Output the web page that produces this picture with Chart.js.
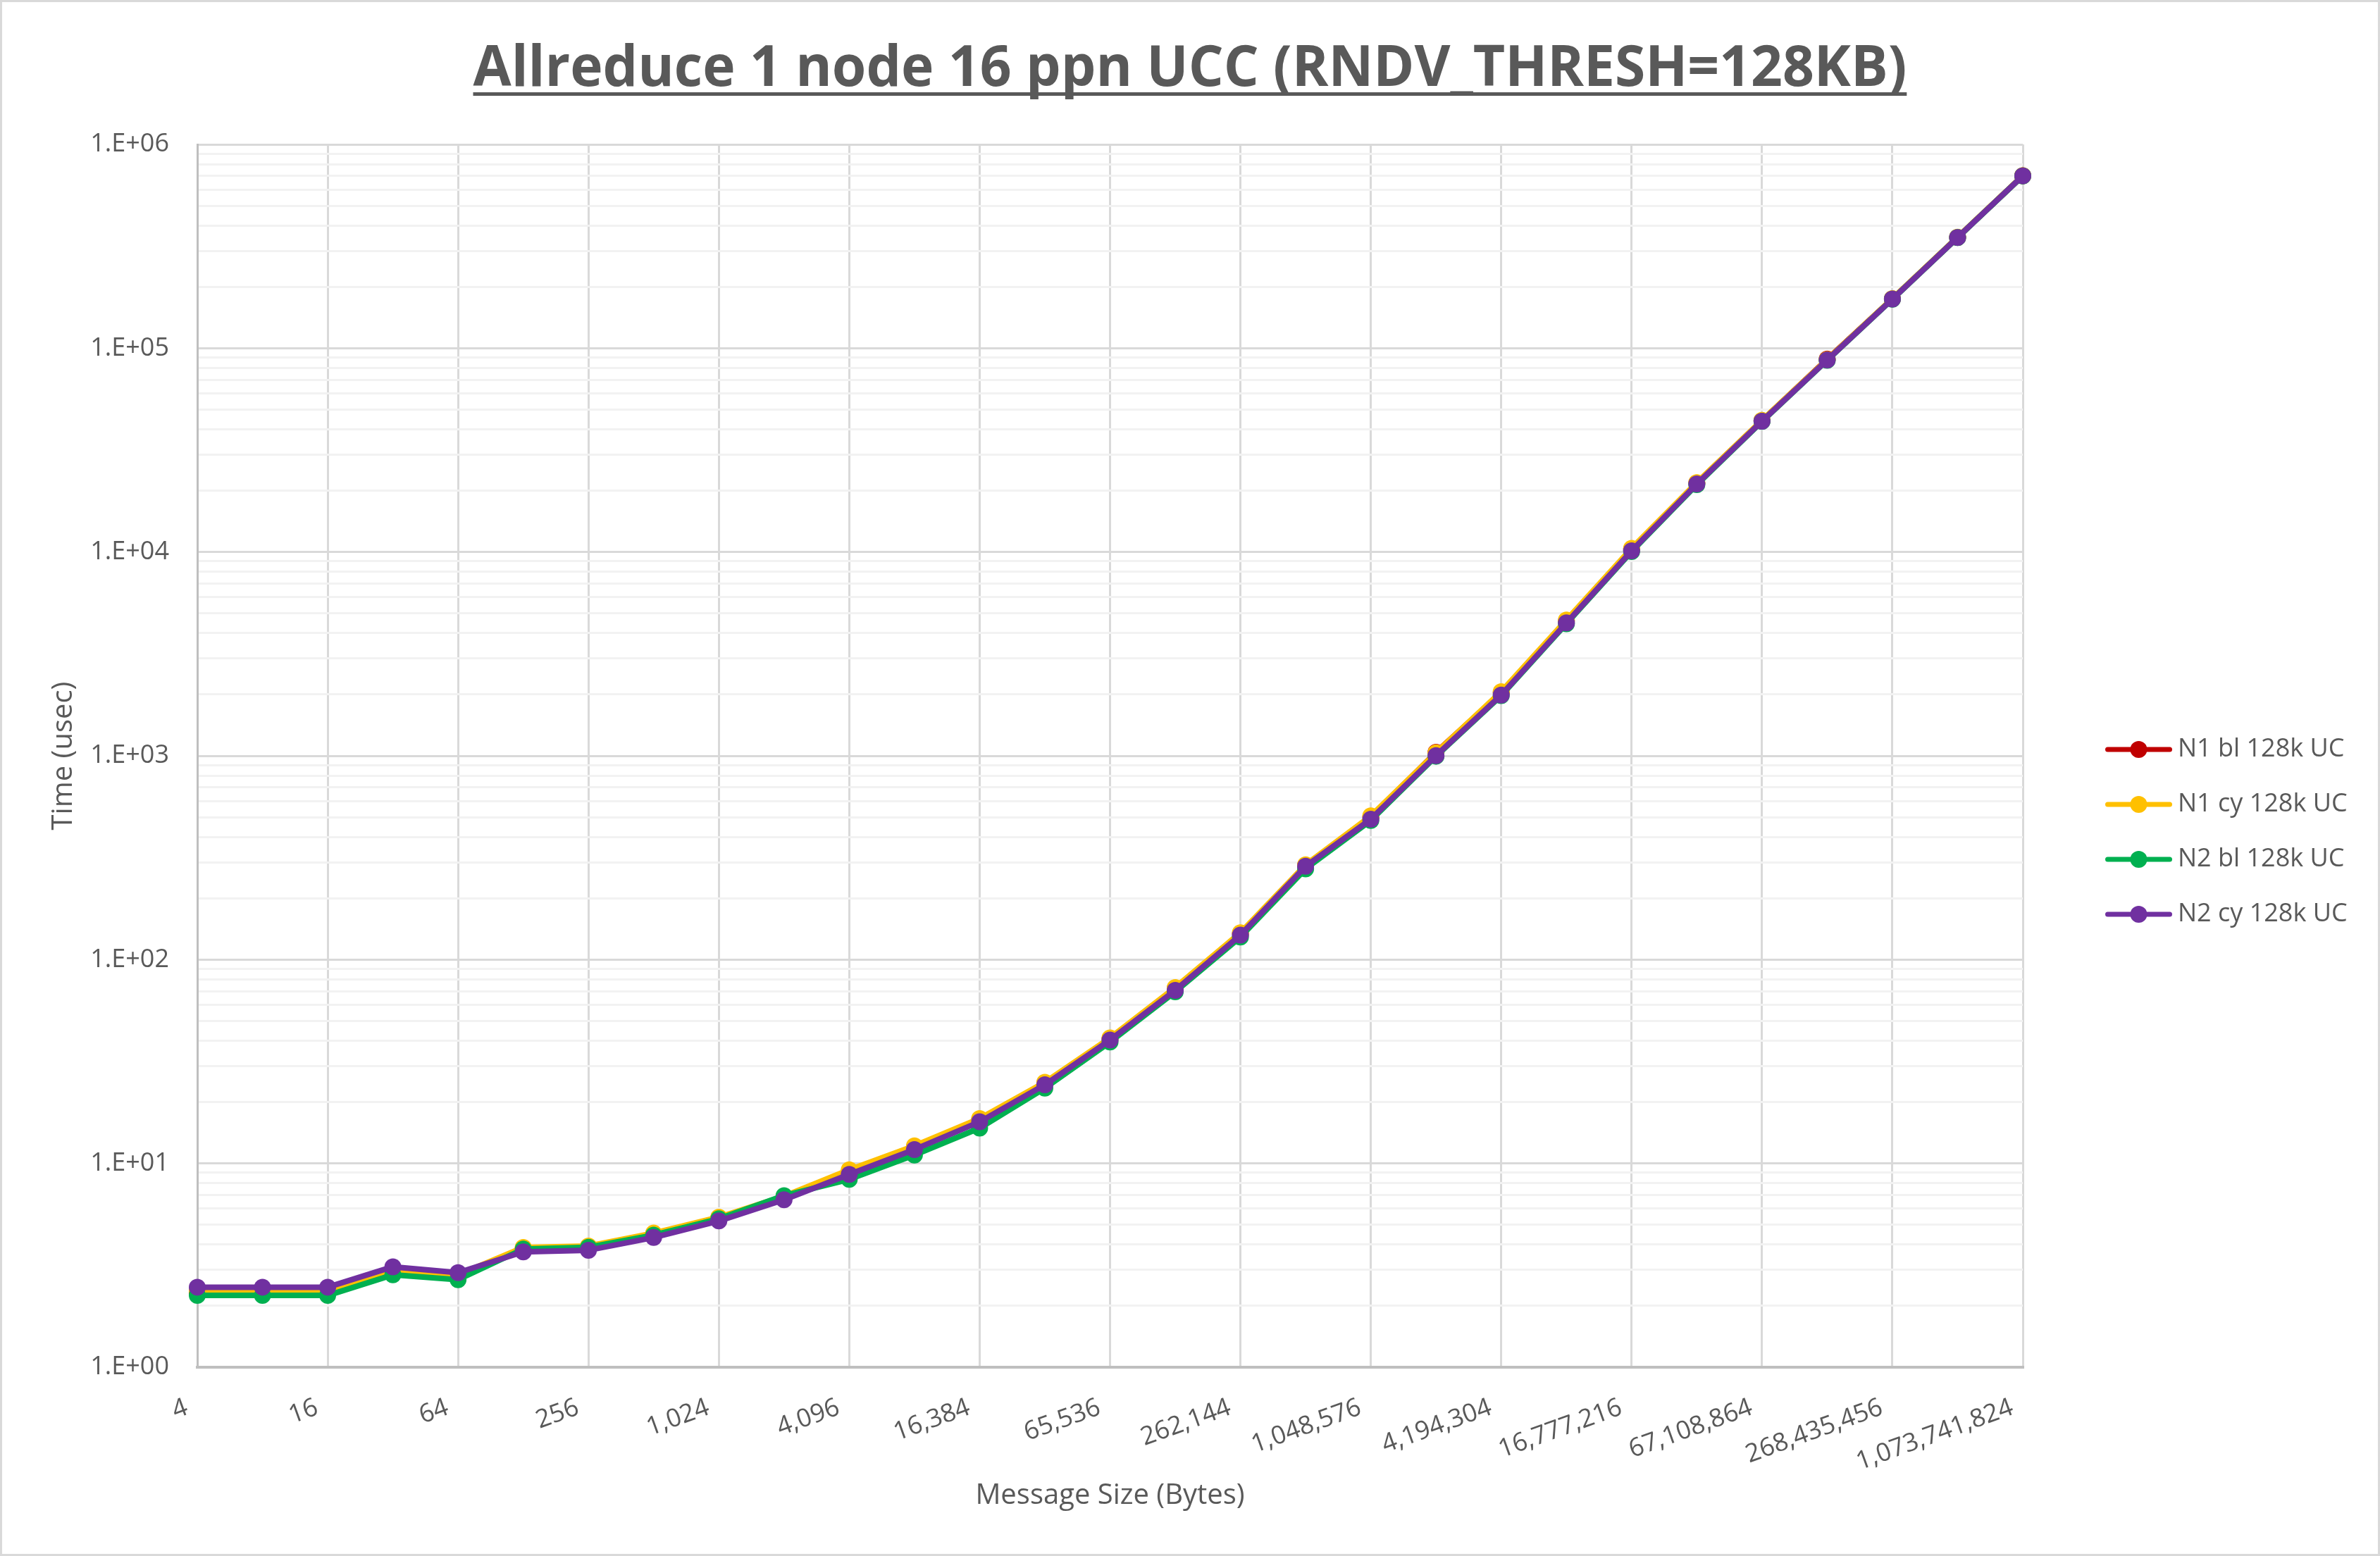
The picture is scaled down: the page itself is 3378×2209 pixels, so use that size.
<!DOCTYPE html>
<html><head><meta charset="utf-8">
<script src="https://cdn.jsdelivr.net/npm/chart.js@4.4.1/dist/chart.umd.min.js"></script>
<style>
html,body{margin:0;padding:0;background:#fff;}
#wrap{position:relative;width:3378px;height:2209px;overflow:hidden;background:#fff;}
#frame{position:absolute;left:0;top:0;width:3378px;height:2209px;box-sizing:border-box;border:3px solid #D9D9D9;pointer-events:none;}
#title{position:absolute;left:0;top:36px;width:3378px;text-align:center;font-family:"Open Sans";font-weight:700;font-size:80px;color:#595959;white-space:nowrap;}
#tt{display:inline-block;text-decoration:underline;text-decoration-thickness:5px;text-underline-offset:9px;text-decoration-skip-ink:none;transform-origin:50% 50%;}
canvas{position:absolute;left:0;top:0;}
</style></head><body>
<div id="wrap">
<canvas id="c" width="3378" height="2209"></canvas>
<div id="title"><span id="tt">Allreduce 1 node 16 ppn UCC (RNDV_THRESH=128KB)</span></div>
<div id="frame"></div>
</div>
<script>
// ---- data ----
const messageSizes = [4, 8, 16, 32, 64, 128, 256, 512, 1024, 2048, 4096, 8192, 16384, 32768, 65536,
  131072, 262144, 524288, 1048576, 2097152, 4194304, 8388608, 16777216, 33554432, 67108864,
  134217728, 268435456, 536870912, 1073741824];
const xTickLabels = ['4', '16', '64', '256', '1,024', '4,096', '16,384', '65,536', '262,144',
  '1,048,576', '4,194,304', '16,777,216', '67,108,864', '268,435,456', '1,073,741,824'];
const seriesNames = ['N1 bl 128k UC', 'N1 cy 128k UC', 'N2 bl 128k UC', 'N2 cy 128k UC'];
const n1Bl = [2.32, 2.32, 2.32, 2.9, 2.78, 3.83, 3.9, 4.5, 5.4, 6.85, 9.1, 12.0, 16.3, 24.7, 40.8,
  72.2, 134, 290, 500, 1040, 2040, 4580, 10300, 21800, 44100, 88400, 174800, 350000, 701500];
const n1Cy = [2.38, 2.38, 2.38, 2.95, 2.84, 3.87, 3.93, 4.55, 5.45, 6.9, 9.3, 12.2, 16.6, 25.0, 41.3,
  73.0, 135.5, 292, 507, 1035, 2065, 4640, 10430, 21900, 44300, 88000, 175000, 350500, 702000];
const n2Bl = [2.25, 2.25, 2.25, 2.84, 2.69, 3.80, 3.88, 4.45, 5.35, 6.95, 8.35, 11.0, 14.9, 23.4, 39.4,
  69.5, 129, 279, 482, 995, 1975, 4450, 10050, 21400, 43700, 87300, 174000, 349000, 700500];
const n2Cy = [2.47, 2.47, 2.47, 3.11, 2.91, 3.68, 3.75, 4.33, 5.22, 6.63, 8.83, 11.7, 16.0, 24.3, 40.3,
  70.7, 132, 287, 489, 1002, 1988, 4488, 10130, 21570, 43850, 87500, 174200, 349400, 701000];
const seriesColors = ['#C00000', '#FFC000', '#00B050', '#7030A0'];
const yTickValues = [1, 10, 100, 1000, 10000, 100000, 1000000];
const yTickLabels = ['1.E+00', '1.E+01', '1.E+02', '1.E+03', '1.E+04', '1.E+05', '1.E+06'];
const xTitle = 'Message Size (Bytes)';
const yTitle = 'Time (usec)';

// ---- layout helpers ----
const W = 3378, H = 2209;
const plotLeft = 280, plotRight = 2871, plotTop = 205, plotBottom = 1941;
const padLeft = 63, padBottom = 52;
const legendPad = 42, legendBox = 160, legendFont = 36;

const mctx = document.createElement('canvas').getContext('2d');
mctx.font = legendFont + 'px "Open Sans"';
const maxTextW = Math.max(...seriesNames.map(s => mctx.measureText(s).width));
const legendW = legendPad + legendBox + legendFont / 2 + maxTextW + 10;
const padRight = Math.max(0, W - plotRight - legendW);

// title width fit
const tt = document.getElementById('tt');
const k = 2035 / tt.offsetWidth;
tt.style.transform = 'scaleX(' + k + ')';

function legendSample(color) {
  const c = document.createElement('canvas');
  c.width = 200; c.height = 40;
  const g = c.getContext('2d');
  g.strokeStyle = color; g.lineWidth = 7; g.lineCap = 'round';
  g.beginPath(); g.moveTo(98.5, 20); g.lineTo(186.5, 20); g.stroke();
  g.fillStyle = color;
  g.beginPath(); g.arc(142.5, 20, 12, 0, Math.PI * 2); g.fill();
  return c;
}
const legendSamples = seriesColors.map(legendSample);

const yAllTicks = [];
for (let i = 0; i < yTickValues.length - 1; i++) {
  for (let m = 1; m <= 9; m++) yAllTicks.push(yTickValues[i] * m);
}
yAllTicks.push(yTickValues[yTickValues.length - 1]);

Chart.defaults.color = '#595959';
Chart.defaults.font.family = '"Open Sans"';

const seriesData = [n1Bl, n1Cy, n2Bl, n2Cy];
const datasets = seriesNames.map((name, i) => ({
  label: name,
  data: seriesData[i],
  borderColor: seriesColors[i],
  backgroundColor: seriesColors[i],
  pointBackgroundColor: seriesColors[i],
  pointBorderColor: seriesColors[i],
  borderWidth: 8,
  pointRadius: 12,
  pointHoverRadius: 12,
  pointBorderWidth: 0,
  borderJoinStyle: 'round',
  borderCapStyle: 'round',
  tension: 0,
  clip: false,
  order: seriesNames.length - i
}));

new Chart(document.getElementById('c'), {
  type: 'line',
  data: { labels: messageSizes, datasets },
  options: {
    responsive: false,
    devicePixelRatio: 1,
    animation: false,
    events: [],
    layout: { padding: { top: plotTop, left: padLeft, bottom: padBottom, right: padRight } },
    plugins: {
      title: { display: false },
      tooltip: { enabled: false },
      legend: {
        position: 'right',
        labels: {
          usePointStyle: true,
          pointStyleWidth: legendBox,
          padding: legendPad,
          color: '#595959',
          font: { size: legendFont, family: '"Open Sans"' },
          sort: (a, b) => a.datasetIndex - b.datasetIndex,
          generateLabels: (chart) => {
            const items = Chart.defaults.plugins.legend.labels.generateLabels(chart);
            items.forEach(it => { it.pointStyle = legendSamples[it.datasetIndex]; });
            return items;
          }
        }
      }
    },
    scales: {
      x: {
        type: 'category',
        offset: false,
        afterFit: (s) => { s.height = H - padBottom - plotBottom; },
        grid: {
          drawTicks: false,
          lineWidth: 3,
          color: (ctx) => (ctx.index % 2 === 0 ? '#D9D9D9' : 'rgba(0,0,0,0)')
        },
        border: { color: '#BFBFBF', width: 4 },
        ticks: {
          autoSkip: false,
          minRotation: 20,
          maxRotation: 20,
          padding: 36,
          labelOffset: -15,
          color: '#595959',
          font: { size: 36 },
          callback: (val, i) => (i % 2 === 0 ? xTickLabels[i / 2] : '')
        },
        title: {
          display: true,
          text: xTitle,
          color: '#595959',
          font: { size: 40 },
          padding: { top: 4, bottom: 9 }
        }
      },
      y: {
        type: 'logarithmic',
        min: 1,
        max: 1000000,
        afterFit: (s) => { s.width = plotLeft - padLeft; },
        afterBuildTicks: (s) => {
          s.ticks = yAllTicks.map(v => ({ value: v, major: yTickValues.includes(v) }));
        },
        grid: {
          drawTicks: false,
          lineWidth: 3,
          color: (ctx) => (ctx.tick && yTickValues.includes(ctx.tick.value) ? '#D9D9D9' : '#F2F2F2')
        },
        border: { color: '#BFBFBF', width: 3 },
        ticks: {
          autoSkip: false,
          padding: 40,
          color: '#595959',
          font: { size: 36 },
          callback: (v) => {
            const idx = yTickValues.indexOf(v);
            return idx >= 0 ? yTickLabels[idx] : '';
          }
        },
        title: {
          display: true,
          text: yTitle,
          color: '#595959',
          font: { size: 40 },
          padding: { top: 4, bottom: 4 }
        }
      }
    }
  }
});
</script>
</body></html>
